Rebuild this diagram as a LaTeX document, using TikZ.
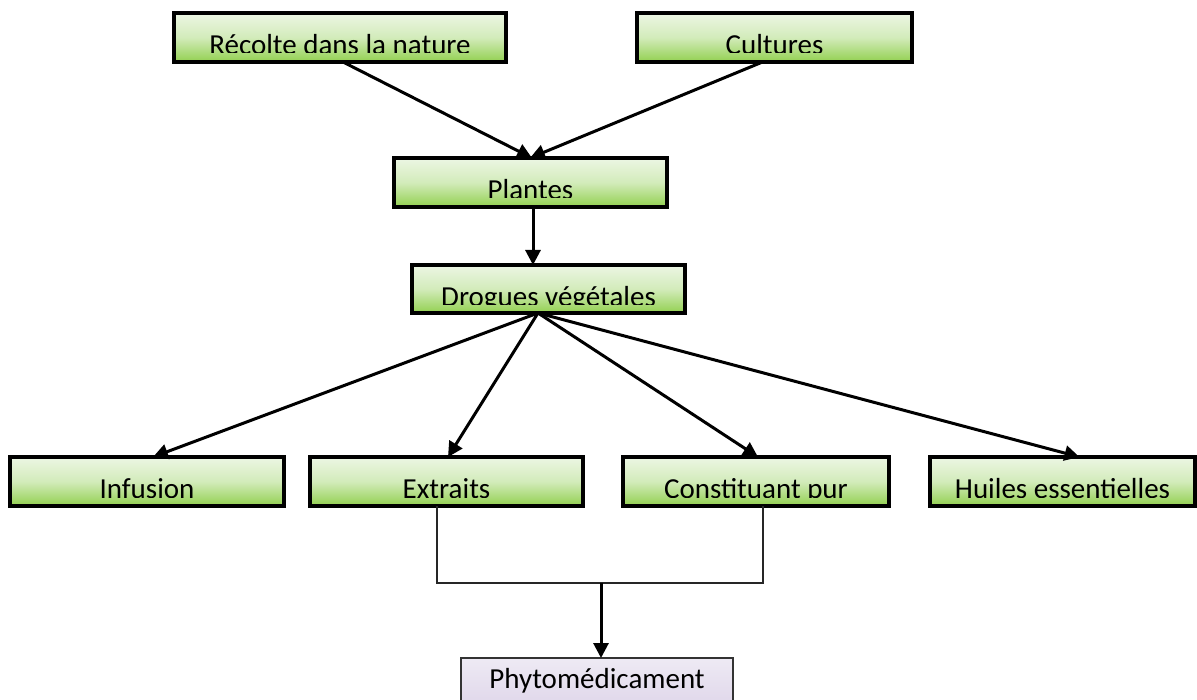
\documentclass[tikz,border=0pt]{standalone}
\usepackage{fontspec}
\setmainfont{Carlito}
\usetikzlibrary{arrows.meta}
\definecolor{gtop}{RGB}{236,246,228}
\definecolor{gbot}{RGB}{146,208,80}
\definecolor{ptop}{RGB}{238,234,244}
\definecolor{pbot}{RGB}{217,206,230}
\tikzset{
  gboxst/.style={draw=black, line width=3.2pt, top color=gtop, bottom color=gbot, middle color=gtop!72!gbot, shading=axis, inner sep=0pt, outer sep=0pt},
  pboxst/.style={draw=black!80, line width=2pt, top color=ptop, bottom color=pbot, inner sep=0pt, outer sep=0pt},
  txt/.style={anchor=base, inner sep=0pt, font=\fontsize{29}{34}\selectfont},
  arr/.style={draw=black, line width=3pt, -{Triangle[length=15pt,width=15pt]}},
  conn/.style={draw=black!85, line width=2pt}
}
\newcommand\gbox[6]{%
  \node[gboxst, minimum width=#4-#2, minimum height=#5-#3] (#1) at ({(#2+#4)/2},{(#3+#5)/2}) {};
  \begin{scope}
    \clip (#2,#3) rectangle (#4,#3+40);
    \node[txt] (#1t) at ({(#2+#4)/2},#3+41.5) {#6};
  \end{scope}}
\begin{document}
\begin{tikzpicture}[x=1pt,y=-1pt]
\useasboundingbox (0,0) rectangle (1197,700);
\clip (0,0) rectangle (1197,700);
\gbox{rc}{174}{13}{506}{62}{Récolte dans la nature}
\gbox{cu}{637}{13}{912}{62}{Cultures}
\gbox{pl}{394}{158}{667}{207}{Plantes}
\gbox{dg}{412}{265}{685}{313}{Drogues végétales}
\gbox{inf}{10}{457}{284}{506}{Infusion}
\gbox{ex}{310}{457}{583}{506}{Extraits}
\gbox{cp}{623}{457}{889}{506}{Constituant pur}
\gbox{hu}{930}{457}{1195}{506}{Huiles essentielles}
\node[pboxst, minimum width=272, minimum height=70] (ph) at (597,693) {};
\begin{scope}
  \clip (461,658) rectangle (733,693);
  \node[txt] (pht) at (597,688) {Phytomédicament};
\end{scope}
\draw[arr] ([xshift=3pt]rc.south) -- ([xshift=1.5pt]pl.north);
\draw[arr] ([xshift=-12pt]cu.south) -- ([xshift=-0.5pt]pl.north);
\draw[arr] ([xshift=2.5pt]pl.south) -- ([xshift=2.5pt]pl.south |- dg.north);
\draw[arr] ([xshift=-10.5pt]dg.south) -- ([xshift=6pt]inf.north);
\draw[arr] ([xshift=-10.5pt]dg.south) -- ([xshift=1.5pt]ex.north);
\draw[arr] ([xshift=-10.5pt]dg.south) -- ([xshift=2pt]cp.north);
\draw[arr] ([xshift=-10.5pt]dg.south) -- ([xshift=17pt]hu.north);
\coordinate (j) at (601,583);
\draw[conn] ([xshift=-9.5pt]ex.south) |- (j) -| ([xshift=7pt]cp.south);
\draw[arr] (j) -- (j |- ph.north);
\end{tikzpicture}
\end{document}
